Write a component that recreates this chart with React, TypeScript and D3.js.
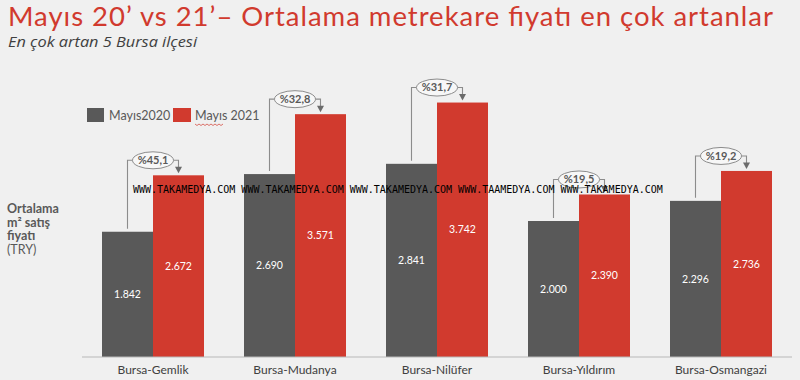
import React from 'react';
import * as d3 from 'd3';

const categories = ['Bursa-Gemlik', 'Bursa-Mudanya', 'Bursa-Nilüfer', 'Bursa-Yıldırım', 'Bursa-Osmangazi'];
const may2020 = [1842, 2690, 2841, 2000, 2296];
const may2021 = [2672, 3571, 3742, 2390, 2736];
const changeLabels = ['%45,1', '%32,8', '%31,7', '%19,5', '%19,2'];
const seriesNames = ['Mayıs2020', 'Mayıs 2021'];
const yTitleLines = ['Ortalama', 'm² satış', 'fiyatı', '(TRY)'];
const watermark = 'WWW.TAKAMEDYA.COM WWW.TAKAMEDYA.COM WWW.TAKAMEDYA.COM WWW.TAAMEDYA.COM WWW.TAKAMEDYA.COM';

const W = 800;
const H = 380;
const GRAY = '#595959';
const RED = '#d13a2e';
const BG = '#f0f0f0';
const FONT = 'Lato, "Open Sans", sans-serif';

const locale = d3.formatLocale({ decimal: ',', thousands: '.', grouping: [3], currency: ['', ''] });
const fmt = locale.format(',d');

export default function App() {
  const x0 = d3.scaleBand<string>().domain(categories).range([82, 792]).paddingInner(40 / 142).paddingOuter(20 / 142);
  const x1 = d3.scaleBand<string>().domain(['2020', '2021']).range([0, x0.bandwidth()]);
  const y = d3.scaleLinear().domain([0, 4000]).range([357, 85]);
  const bw = x1.bandwidth();

  return (
    <svg width={W} height={H} style={{ position: 'absolute', left: 0, top: 0, background: BG }}>
      <rect x={0} y={0} width={W} height={H} fill={BG} />
      <text x={8} y={26} fontFamily={FONT} fontSize={27.5} fill={RED} textLength={765} lengthAdjust="spacing">
        Mayıs 20’ vs 21’– Ortalama metrekare fiyatı en çok artanlar
      </text>
      <text x={8} y={46.5} fontFamily='"Open Sans", sans-serif' fontSize={15} fontStyle="italic" fill="#404040" textLength={189} lengthAdjust="spacingAndGlyphs">
        En çok artan 5 Bursa ilçesi
      </text>

      {/* legend */}
      <rect x={87} y={108} width={17} height={14} fill={GRAY} />
      <text x={109} y={120} fontFamily={FONT} fontSize={12.5} fill={GRAY}>{seriesNames[0]}</text>
      <rect x={173} y={108} width={18} height={14} fill={RED} />
      <text x={195} y={120} fontFamily={FONT} fontSize={12.5} fill={GRAY}>{seriesNames[1]}</text>
      <path
        d={d3.range(0, 30, 2).map((d, i) => `${i === 0 ? 'M' : 'L'}${195 + d},${i % 2 === 0 ? 124 : 125.5}`).join('')}
        fill="none"
        stroke={RED}
        strokeWidth={0.7}
      />

      {/* y title */}
      {yTitleLines.map((t, i) => (
        <text key={t} x={7} y={213 + i * 13.5} fontFamily={FONT} fontSize={12.5} fontWeight={i < 3 ? 700 : 400} fill={GRAY}>
          {t}
        </text>
      ))}

      {/* bars */}
      {categories.map((c, i) => {
        const gx = (x0(c) as number) + (x1('2020') as number);
        const rx = (x0(c) as number) + (x1('2021') as number);
        return (
          <g key={c}>
            <rect x={gx} y={y(may2020[i])} width={bw} height={y(0) - y(may2020[i])} fill={GRAY} />
            <rect x={rx} y={y(may2021[i])} width={bw} height={y(0) - y(may2021[i])} fill={RED} />
            <text x={gx + bw / 2} y={(y(may2020[i]) + y(0)) / 2} dy="0.35em" textAnchor="middle" fontFamily={FONT} fontSize={10.5} fill="#fff">
              {fmt(may2020[i])}
            </text>
            <text x={rx + bw / 2} y={(y(may2021[i]) + y(0)) / 2} dy="0.35em" textAnchor="middle" fontFamily={FONT} fontSize={10.5} fill="#fff">
              {fmt(may2021[i])}
            </text>
          </g>
        );
      })}

      {/* axis line */}
      <line x1={82} x2={792} y1={357} y2={357} stroke="#b8b8b8" strokeWidth={1.2} />
      {categories.map((c) => (
        <text key={c} x={(x0(c) as number) + x0.bandwidth() / 2} y={374} textAnchor="middle" fontFamily={FONT} fontSize={12} fill="#404040">
          {c}
        </text>
      ))}

      {/* change annotations */}
      {categories.map((c, i) => {
        const gcx = (x0(c) as number) + (x1('2020') as number) + bw / 2;
        const rcx = (x0(c) as number) + (x1('2021') as number) + bw / 2;
        const cx = (x0(c) as number) + x0.bandwidth() / 2;
        const redTop = y(may2021[i]);
        const cy = redTop - 15;
        const erx = 20.5;
        const ery = 8.5;
        const tip = redTop - 2;
        return (
          <g key={c + '-ann'}>
            <path d={`M${gcx},${y(may2020[i]) - 3}V${cy}H${cx - erx}`} fill="none" stroke="#8c8c8c" strokeWidth={1.1} />
            <path d={`M${cx + erx},${cy}H${rcx}V${tip - 6}`} fill="none" stroke="#8c8c8c" strokeWidth={1.1} />
            <path d={`M${rcx - 3.5},${tip - 6.5}L${rcx + 3.5},${tip - 6.5}L${rcx},${tip}Z`} fill="#6b6b6b" />
            <ellipse cx={cx} cy={cy} rx={erx} ry={ery} fill="#f7f7f7" stroke="#8c8c8c" strokeWidth={1} />
            <text x={cx} y={cy} dy="0.35em" textAnchor="middle" fontFamily={FONT} fontSize={11} fontWeight={700} fill={GRAY}>
              {changeLabels[i]}
            </text>
          </g>
        );
      })}

      {/* watermark */}
      <text x={133} y={193} fontFamily='"DejaVu Sans Mono", monospace' fontSize={10} fill="#000">
        {watermark}
      </text>
    </svg>
  );
}
